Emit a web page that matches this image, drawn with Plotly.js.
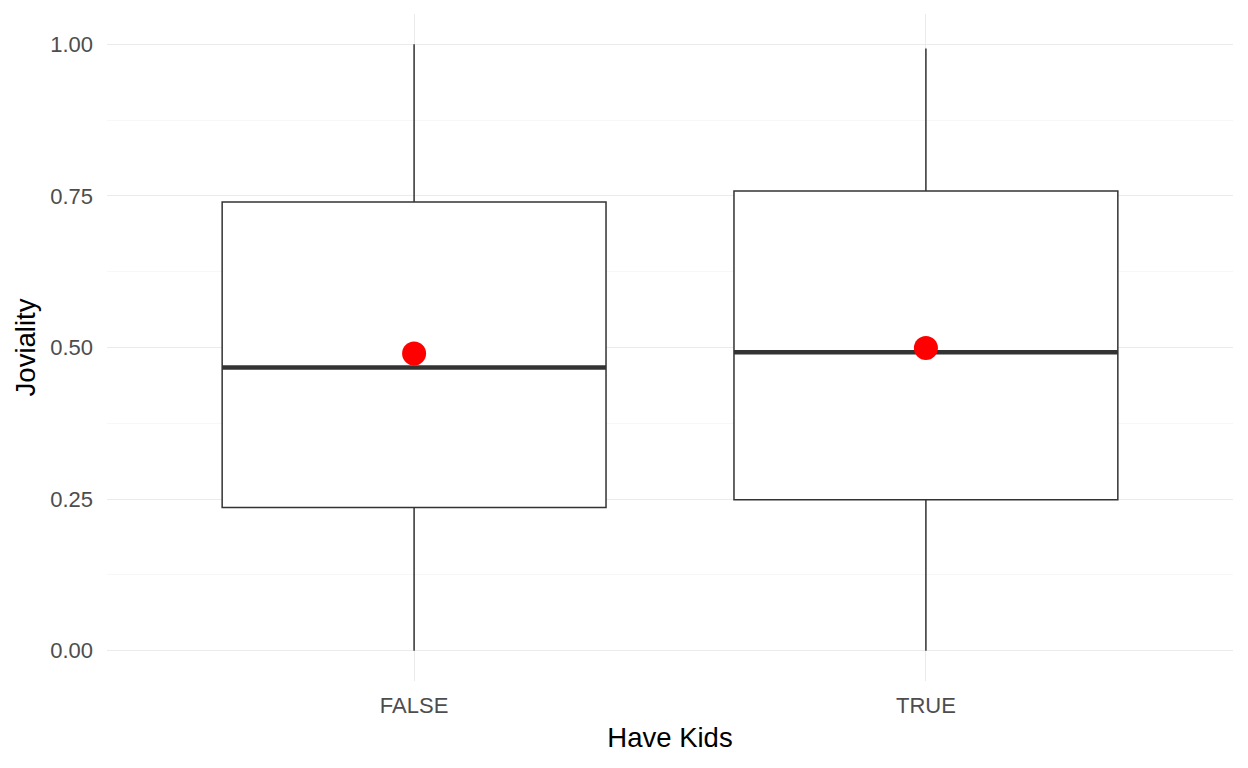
<!DOCTYPE html>
<html>
<head>
<meta charset="utf-8">
<script src="https://cdn.plot.ly/plotly-3.0.1.min.js"></script>
<style>html,body{margin:0;padding:0;background:#fff;}#chart{width:1248px;height:768px;}</style>
</head>
<body>
<div id="chart"></div>
<script>
const categories = ["FALSE", "TRUE"];
const lowerWhisker = [0.0, 0.0];
const q1Values = [0.236, 0.249];
const medianValues = [0.467, 0.492];
const q3Values = [0.740, 0.758];
const upperWhisker = [1.0, 0.993];
const meanValues = [0.490, 0.499];

const positions = categories.map((c, i) => i + 1);
const boxWidth = 0.75;
const lineColor = '#333333';

const traces = [];
traces.push({
  type: 'box',
  x: positions,
  q1: q1Values,
  median: medianValues,
  q3: q3Values,
  lowerfence: lowerWhisker,
  upperfence: upperWhisker,
  width: boxWidth,
  whiskerwidth: 0,
  fillcolor: '#FFFFFF',
  line: {color: lineColor, width: 1.5},
  boxpoints: false,
  hoverinfo: 'skip',
  showlegend: false
});
// thick median segments
positions.forEach((p, i) => {
  traces.push({
    type: 'scatter', mode: 'lines',
    x: [p - boxWidth / 2, p + boxWidth / 2],
    y: [medianValues[i], medianValues[i]],
    line: {color: lineColor, width: 4.5},
    hoverinfo: 'skip', showlegend: false
  });
});
traces.push({
  type: 'scatter', mode: 'markers',
  x: positions, y: meanValues,
  marker: {color: '#FF0000', size: 24},
  hoverinfo: 'skip', showlegend: false
});

const layout = {
  width: 1248, height: 768,
  paper_bgcolor: '#FFFFFF', plot_bgcolor: '#FFFFFF',
  margin: {l: 107, r: 15, t: 14, b: 87},
  font: {family: 'Liberation Sans, Arial, sans-serif'},
  showlegend: false,
  xaxis: {
    range: [0.4, 2.6],
    tickvals: positions, ticktext: categories,
    ticks: '', showline: false, zeroline: false,
    showgrid: true, gridcolor: '#EBEBEB', gridwidth: 1.1,
    tickfont: {size: 22, color: '#4D4D4D'},
    ticklabelstandoff: 9,
    title: {text: 'Have Kids', font: {size: 27.5, color: '#000000'}, standoff: 10}
  },
  yaxis: {
    range: [-0.05, 1.05],
    tickvals: [0, 0.25, 0.5, 0.75, 1.0],
    ticktext: ['0.00', '0.25', '0.50', '0.75', '1.00'],
    ticks: '', showline: false, zeroline: false,
    showgrid: true, gridcolor: '#EBEBEB', gridwidth: 1.1,
    minor: {tickvals: [0.125, 0.375, 0.625, 0.875], showgrid: true, gridcolor: '#F2F2F2', gridwidth: 0.6, ticks: ''},
    tickfont: {size: 22, color: '#4D4D4D'},
    ticklabelstandoff: 13,
    title: {text: 'Joviality', font: {size: 27.5, color: '#000000'}, standoff: 6}
  }
};

Plotly.newPlot('chart', traces, layout, {staticPlot: true, displayModeBar: false});
</script>
</body>
</html>
